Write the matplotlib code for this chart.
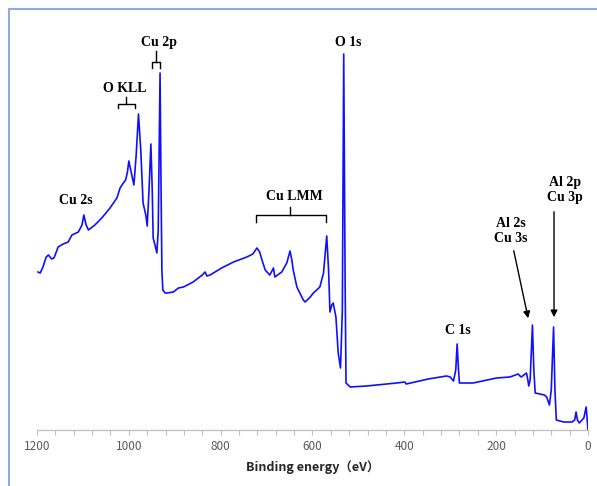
import matplotlib
matplotlib.use("Agg")
import matplotlib.pyplot as plt
from matplotlib.ticker import MultipleLocator
from matplotlib.lines import Line2D

# binding energy (eV) and intensity (a.u.)
energy = [1198, 1193, 1187, 1180, 1175, 1168, 1163, 1154, 1143, 1132, 1124, 1110,
          1102, 1098, 1093, 1088, 1074, 1059, 1041, 1026, 1019, 1012, 1007, 1003,
          1000, 995, 989, 984, 979, 974, 969, 963, 960, 956, 952, 949, 947, 943,
          939, 936, 932, 930, 928, 926, 921, 917, 903, 892, 881, 860, 840, 834,
          830, 823, 798, 772, 743, 730, 721, 715, 710, 703, 693, 685, 682, 667,
          656, 649, 645, 642, 634, 620, 616, 605, 598, 584, 576, 569, 565, 562,
          558, 555, 549, 544, 539, 535, 532, 529, 527, 518, 482, 417, 399, 396,
          348, 308, 300, 293, 288, 285, 282, 280, 250, 199, 170, 152, 148, 145,
          140, 134, 131, 129, 126, 121, 118, 115, 105, 95, 90, 84, 80, 75, 72,
          69, 53, 35, 29, 26, 23, 19, 9, 4, 1, 0]
intensity = [158, 157, 163, 173, 175, 171, 172, 183, 186, 188, 195, 198,
             205, 215, 205, 200, 205, 212, 222, 232, 242, 247, 250, 258,
             269, 258, 245, 275, 316, 280, 227, 215, 204, 240, 286, 240, 192, 185,
             177, 200, 357, 250, 160, 140, 137, 137, 138, 142, 143, 148, 155, 158,
             154, 155, 162, 168, 173, 176, 182, 178, 170, 160, 155, 162, 153, 158,
             167, 179, 170, 160, 143, 130, 128, 133, 137, 143, 157, 194, 160, 118,
             125, 127, 113, 77, 62, 120, 376, 150, 47, 43, 44, 47, 48, 46,
             51, 54, 53, 49, 60, 86, 60, 47, 47, 52, 53, 56, 54, 53,
             55, 57, 50, 44, 50, 105, 60, 37, 36, 35, 33, 25, 40, 103, 40,
             10, 8, 8, 10, 18, 10, 7, 12, 23, 5, 0]

# peak labels: text, energy, intensity
labels = [("Cu 2p", 934, 387), ("O KLL", 1008, 342), ("Cu 2s", 1115, 230),
          ("Cu LMM", 640, 234), ("O 1s", 523, 387), ("C 1s", 283, 100),
          ("Al 2p\nCu 3p", 50, 240), ("Al 2s\nCu 3s", 168, 199)]

# brackets: left E, right E, stem E, stem top, bar level, end level
brackets = [(949, 932, 941, 379, 368, 362),
            (1024, 987, 1006, 333, 326, 322),
            (723, 571, 649, 223, 215, 208)]

fig = plt.figure(figsize=(5.97, 4.86), dpi=100)
ax = fig.add_axes([37 / 597, 56 / 486, 551 / 597, 400 / 486])

ax.plot(energy, intensity, color="#1010ff", lw=1.2)
ax.set_xlim(1200, 0)
ax.set_ylim(0, 400)

for s in ["left", "right", "top"]:
    ax.spines[s].set_visible(False)
ax.spines["bottom"].set_color("#bfbfbf")
ax.spines["bottom"].set_linewidth(0.9)
ax.set_yticks([])
ax.xaxis.set_major_locator(MultipleLocator(200))
ax.xaxis.set_minor_locator(MultipleLocator(40))
ax.tick_params(axis="x", which="both", direction="out", length=3.5, width=0.8,
               color="#bfbfbf", labelcolor="#595959", labelsize=8.5, pad=4)
for t in ax.get_xticklabels():
    t.set_fontfamily(["Noto Sans CJK JP", "DejaVu Sans"])
ax.set_xlabel("Binding energy（eV）", fontsize=9, fontweight="bold",
              family=["Noto Sans CJK JP", "DejaVu Sans"], color="#262626", labelpad=5)

for txt, e, h in labels:
    ax.text(e, h, txt, ha="center", va="center", fontsize=10, fontweight="bold",
            family="Liberation Serif", linespacing=1.15)

for l, r, m, top, bar, end in brackets:
    ax.plot([l, l, r, r], [end, bar, bar, end], color="black", lw=1)
    ax.plot([m, m], [bar, top], color="black", lw=1)

ax.annotate("", xy=(74, 110), xytext=(74, 221),
            arrowprops=dict(arrowstyle="-|>", color="black", lw=1, mutation_scale=10))
ax.annotate("", xy=(129, 109), xytext=(163, 182),
            arrowprops=dict(arrowstyle="-|>", color="black", lw=1, mutation_scale=10))

# chart area border (cropped)
fig.add_artist(Line2D([8.5 / 597, 8.5 / 597], [0, 1 - 9.5 / 486], color="#8faadc", lw=1.5))
fig.add_artist(Line2D([8.5 / 597, 1], [1 - 9.5 / 486, 1 - 9.5 / 486], color="#8faadc", lw=1.5))

fig.savefig("out.png", dpi=100)
